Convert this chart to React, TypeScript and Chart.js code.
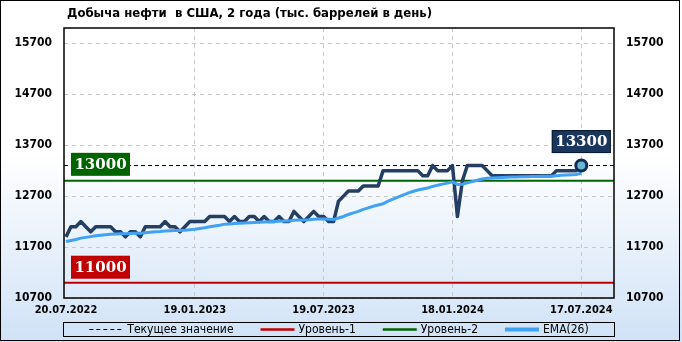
import React, { useEffect, useRef } from 'react';
import { Chart, registerables } from 'chart.js';

Chart.register(...registerables);

// ---------- data ----------
const chartTitle = 'Добыча нефти  в США, 2 года (тыс. баррелей в день)';
const tickIdx = [0, 26, 52, 78, 104];
const tickLabels = ['20.07.2022', '19.01.2023', '19.07.2023', '18.01.2024', '17.07.2024'];
const yTicks = [10700, 11700, 12700, 13700, 14700, 15700];
const legendLabels = ['Текущее значение', 'Уровень-1', 'Уровень-2', 'EMA(26)'];

// weekly production, thousand barrels per day (index 0 = 20.07.2022)
const production = [
  11900, 12100, 12100, 12200, 12100, 12000, 12100, 12100, 12100, 12100,
  12000, 12000, 11900, 12000, 12000, 11900, 12100, 12100, 12100, 12100,
  12200, 12100, 12100, 12000, 12100, 12200, 12200, 12200, 12200, 12300,
  12300, 12300, 12300, 12200, 12300, 12200, 12200, 12300, 12300, 12200,
  12300, 12200, 12200, 12300, 12200, 12200, 12400, 12300, 12200, 12300,
  12400, 12300, 12300, 12200, 12200, 12600, 12700, 12800, 12800, 12800,
  12900, 12900, 12900, 12900, 13200, 13200, 13200, 13200, 13200, 13200,
  13200, 13200, 13100, 13100, 13300, 13200, 13200, 13200, 13300, 12300,
  13000, 13300, 13300, 13300, 13300, 13200, 13100, 13100, 13100, 13100,
  13100, 13100, 13100, 13100, 13100, 13100, 13100, 13100, 13100, 13200,
  13200, 13200, 13200, 13200, 13300,
];

const ema26 = [
  11810, 11830, 11850, 11875, 11890, 11905, 11920, 11930, 11940, 11950,
  11955, 11960, 11960, 11965, 11970, 11970, 11980, 11990, 12000, 12005,
  12015, 12020, 12025, 12025, 12030, 12040, 12050, 12065, 12080, 12100,
  12115, 12130, 12150, 12155, 12160, 12165, 12170, 12175, 12180, 12185,
  12190, 12195, 12200, 12205, 12210, 12210, 12225, 12230, 12230, 12235,
  12245, 12250, 12250, 12245, 12240, 12270, 12300, 12340, 12370, 12400,
  12440, 12470, 12500, 12525, 12550, 12600, 12640, 12680, 12720, 12760,
  12790, 12820, 12840, 12860, 12890, 12915, 12935, 12955, 12980, 12930,
  12935, 12960, 12985, 13010, 13035, 13050, 13055, 13060, 13065, 13070,
  13075, 13075, 13080, 13080, 13085, 13085, 13090, 13090, 13090, 13100,
  13110, 13115, 13120, 13125, 13150,
];

const level1 = 11000;
const level2 = 13000;
const currentValue = 13300;

const xMin = -0.4;
const xMax = 110.6;
const yMin = 10700;
const yMax = 16000;

// ---------- styles ----------
const C_PROD = '#243f61';
const C_EMA = '#41a2f4';
const C_L1 = '#c00000';
const C_L2 = '#006400';
const FONT_COND = '"DejaVu Sans Condensed", "DejaVu Sans", sans-serif';
const FONT_TAG = '"DejaVu Serif", serif';

function drawTag(ctx: CanvasRenderingContext2D, text: string, bg: string, x: number, y: number, w: number, h: number, border?: string) {
  ctx.save();
  ctx.fillStyle = bg;
  ctx.fillRect(x, y, w, h);
  if (border) {
    ctx.strokeStyle = border;
    ctx.lineWidth = 1;
    ctx.strokeRect(x + 0.5, y + 0.5, w - 1, h - 1);
  }
  ctx.fillStyle = '#ffffff';
  ctx.font = `bold 15px ${FONT_TAG}`;
  ctx.textAlign = 'center';
  ctx.textBaseline = 'middle';
  ctx.fillText(text, x + w / 2, y + h / 2 + 1);
  ctx.restore();
}

const decorPlugin = {
  id: 'decor',
  beforeDraw(chart: any) {
    const { ctx, width, height } = chart;
    ctx.save();
    const g = ctx.createLinearGradient(0, 0, 0, height);
    g.addColorStop(0, '#ffffff');
    g.addColorStop(0.45, '#ffffff');
    g.addColorStop(1, '#d0e2f7');
    ctx.fillStyle = g;
    ctx.fillRect(0, 0, width, height);
    ctx.restore();
  },
  afterDraw(chart: any) {
    const { ctx, chartArea: ca, scales } = chart;
    const xs = scales.x;
    const ys = scales.y;
    ctx.save();

    // plot frame
    ctx.strokeStyle = '#000';
    ctx.lineWidth = 1.5;
    ctx.strokeRect(ca.left, ca.top, ca.right - ca.left, ca.bottom - ca.top);

    // level tags
    const tagW = 59;
    const tagH = 23;
    const y2 = ys.getPixelForValue(level2);
    drawTag(ctx, String(level2), C_L2, ca.left + 7, y2 - 5 - tagH, tagW, tagH);
    const y1 = ys.getPixelForValue(level1);
    drawTag(ctx, String(level1), C_L1, ca.left + 7, y1 - 4 - tagH, tagW, tagH);
    const lastI = production.length - 1;
    const cx = xs.getPixelForValue(lastI);
    const cy = ys.getPixelForValue(currentValue);
    drawTag(ctx, String(currentValue), '#1b365d', cx - tagW / 2, cy - 12.5 - tagH, tagW, tagH, '#0a1a30');

    // title
    ctx.fillStyle = '#000';
    ctx.font = `bold 13px ${FONT_COND}`;
    ctx.textAlign = 'left';
    ctx.textBaseline = 'middle';
    ctx.fillText(chartTitle, ca.left + 3, 14);

    // legend
    const items = [
      { color: '#000', width: 1, dash: [4, 3] },
      { color: C_L1, width: 2.5, dash: [] },
      { color: C_L2, width: 2.5, dash: [] },
      { color: C_EMA, width: 4, dash: [] },
    ];
    ctx.font = `12px ${FONT_COND}`;
    const lineLen = 34;
    const gapLT = 4;
    const gapItem = 27;
    const widths = legendLabels.map((l) => ctx.measureText(l).width);
    const total = widths.reduce((a, w) => a + lineLen + gapLT + w, 0) + gapItem * (items.length - 1);
    let x = (ca.left + ca.right) / 2 - total / 2;
    const ly = 329.5;
    ctx.lineWidth = 1;
    ctx.strokeStyle = '#000';
    ctx.strokeRect(ca.left - 0.5, 322.5, ca.right - ca.left + 1, 14);
    items.forEach((it, i) => {
      ctx.beginPath();
      ctx.setLineDash(it.dash);
      ctx.strokeStyle = it.color;
      ctx.lineWidth = it.width;
      ctx.moveTo(x, ly);
      ctx.lineTo(x + lineLen, ly);
      ctx.stroke();
      ctx.setLineDash([]);
      x += lineLen + gapLT;
      ctx.fillStyle = '#000';
      ctx.textBaseline = 'middle';
      ctx.fillText(legendLabels[i], x, ly + 0.5);
      x += widths[i] + gapItem;
    });

    // outer border
    ctx.lineWidth = 1;
    ctx.strokeStyle = '#000';
    ctx.strokeRect(0.5, 0.5, 679, 340);
    ctx.restore();
  },
};

export default function App() {
  const ref = useRef<HTMLCanvasElement>(null);

  useEffect(() => {
    document.body.style.margin = '0';
    const canvas = ref.current!;
    const lastI = production.length - 1;
    const yAxisCommon = {
      min: yMin,
      max: yMax,
      afterBuildTicks: (s: any) => {
        s.ticks = yTicks.map((v) => ({ value: v }));
      },
      ticks: {
        color: '#000',
        font: { family: FONT_COND, size: 12, weight: 'bold' as const },
        padding: 12,
        autoSkip: false,
        callback: (v: any) => String(v),
      },
    };
    const chart = new Chart(canvas, {
      type: 'line',
      data: {
        datasets: [
          {
            label: 'last',
            data: [{ x: lastI, y: production[lastI] }],
            showLine: false,
            pointRadius: 5.5,
            pointBackgroundColor: '#6ab4d4',
            pointBorderColor: '#0f2d57',
            pointBorderWidth: 3,
            order: 0,
          },
          {
            label: legendLabels[3],
            data: ema26.map((v, i) => ({ x: i, y: v })),
            borderColor: C_EMA,
            borderWidth: 3,
            pointRadius: 0,
            tension: 0,
            order: 1,
          },
          {
            label: 'production',
            data: production.map((v, i) => ({ x: i, y: v })),
            borderColor: C_PROD,
            borderWidth: 3.5,
            pointRadius: 0,
            tension: 0,
            borderJoinStyle: 'round',
            order: 2,
          },
          {
            label: legendLabels[0],
            data: [{ x: xMin, y: currentValue }, { x: xMax, y: currentValue }],
            borderColor: '#000',
            borderWidth: 1,
            borderDash: [4, 3],
            pointRadius: 0,
            order: 3,
          },
          {
            label: legendLabels[2],
            data: [{ x: xMin, y: level2 }, { x: xMax, y: level2 }],
            borderColor: C_L2,
            borderWidth: 2,
            pointRadius: 0,
            order: 4,
          },
          {
            label: legendLabels[1],
            data: [{ x: xMin, y: level1 }, { x: xMax, y: level1 }],
            borderColor: C_L1,
            borderWidth: 2,
            pointRadius: 0,
            order: 5,
          },
        ],
      },
      options: {
        responsive: false,
        devicePixelRatio: 1,
        animation: false,
        layout: { padding: { top: 28, left: 0, right: 0, bottom: 0 } },
        plugins: {
          legend: { display: false },
          tooltip: { enabled: false },
          title: { display: false },
        },
        scales: {
          x: {
            type: 'linear',
            min: xMin,
            max: xMax,
            afterBuildTicks: (s: any) => {
              s.ticks = tickIdx.map((v) => ({ value: v }));
            },
            afterFit: (s: any) => {
              s.height = 44;
            },
            ticks: {
              color: '#000',
              font: { family: FONT_COND, size: 11, weight: 'bold' },
              padding: 6,
              maxRotation: 0,
              autoSkip: false,
              callback: (v: any) => {
                const k = tickIdx.indexOf(Number(v));
                return k >= 0 ? tickLabels[k] : '';
              },
            },
            grid: {
              color: (c: any) => (c.tick && c.tick.value === 0 ? 'rgba(0,0,0,0)' : '#c8c8c8'),
              drawTicks: false,
              lineWidth: 1,
            },
            border: { display: false, dash: [4, 4] },
          },
          y: {
            ...yAxisCommon,
            position: 'left',
            afterFit: (s: any) => {
              s.width = 64;
            },
            grid: { color: '#c8c8c8', drawTicks: false, lineWidth: 1 },
            border: { display: false, dash: [4, 4] },
          },
          y2: {
            ...yAxisCommon,
            position: 'right',
            afterFit: (s: any) => {
              s.width = 68;
            },
            grid: { display: false, drawTicks: false },
            border: { display: false },
          },
        },
      },
      plugins: [decorPlugin],
    } as any);
    return () => chart.destroy();
  }, []);

  return (
    <div style={{ width: 682, height: 342 }}>
      <canvas ref={ref} width={682} height={342} style={{ display: 'block' }} />
    </div>
  );
}
